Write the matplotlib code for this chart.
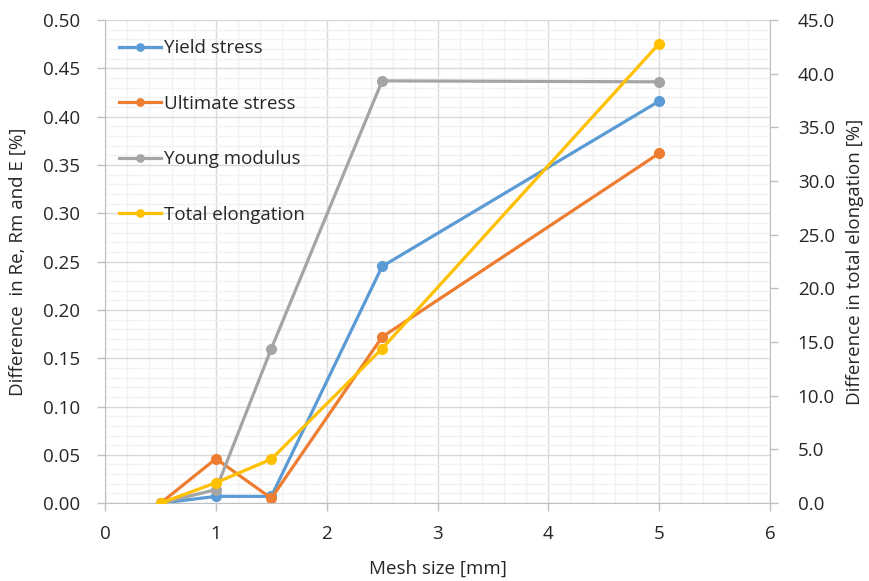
import matplotlib
matplotlib.use("Agg")
import matplotlib.pyplot as plt
from matplotlib.ticker import MultipleLocator, FormatStrFormatter

plt.rcParams['font.family'] = ['Open Sans', 'DejaVu Sans']

# Data
mesh_size = [0.5, 1, 1.5, 2.5, 5]
yield_stress = [0.0, 0.007, 0.007, 0.245, 0.416]
ultimate_stress = [0.0, 0.046, 0.005, 0.172, 0.362]
young_modulus = [0.0, 0.014, 0.160, 0.437, 0.436]
total_elongation = [0.0, 1.9, 4.1, 14.4, 42.8]

blue = "#5B9BD5"
orange = "#ED7D31"
gray = "#A5A5A5"
gold = "#FFC000"
text_col = "#262626"
axis_col = "#BFBFBF"
fs = 13.5

fig = plt.figure(figsize=(8.69, 5.81), dpi=100)
ax = fig.add_axes([0.121, 0.134, 0.765, 0.8316])
ax2 = ax.twinx()

style = dict(linewidth=2.3, marker="o", markersize=7)
ax.plot(mesh_size, yield_stress, color=blue, label="Yield stress", **style)
ax.plot(mesh_size, ultimate_stress, color=orange, label="Ultimate stress", **style)
ax.plot(mesh_size, young_modulus, color=gray, label="Young modulus", **style)
ax2.plot(mesh_size, total_elongation, color=gold, label="Total elongation", **style)

ax.set_xlim(0, 6)
ax.set_ylim(0, 0.5)
ax2.set_ylim(0, 45)

ax.xaxis.set_major_locator(MultipleLocator(1))
ax.xaxis.set_minor_locator(MultipleLocator(0.2))
ax.yaxis.set_major_locator(MultipleLocator(0.05))
ax.yaxis.set_minor_locator(MultipleLocator(0.01))
ax.yaxis.set_major_formatter(FormatStrFormatter("%.2f"))
ax2.yaxis.set_major_locator(MultipleLocator(5))
ax2.yaxis.set_major_formatter(FormatStrFormatter("%.1f"))

ax.grid(which="major", color="#D9D9D9", linewidth=1.0)
ax.grid(which="minor", color="#F2F2F2", linewidth=1.0)
ax.set_axisbelow(True)

for a in (ax, ax2):
    a.spines["top"].set_visible(False)
    for s in ("left", "right", "bottom"):
        a.spines[s].set_color(axis_col)
    a.tick_params(which="major", colors=axis_col, labelcolor=text_col,
                  labelsize=fs, length=6, width=1)
    a.tick_params(which="minor", length=0)
ax.tick_params(axis="x", pad=10)
ax.tick_params(axis="y", pad=12)
ax2.tick_params(axis="y", pad=14)
ax.spines["right"].set_visible(False)
ax2.spines["left"].set_visible(False)
ax2.spines["bottom"].set_visible(False)

ax.set_xlabel("Mesh size [mm]", fontsize=fs, color=text_col, labelpad=12)
ax.set_ylabel("Difference  in Re, Rm and E [%]", fontsize=fs, color=text_col, labelpad=12)
ax2.set_ylabel("Difference in total elongation [%]", fontsize=fs, color=text_col, labelpad=8)

h1, l1 = ax.get_legend_handles_labels()
h2, l2 = ax2.get_legend_handles_labels()
leg = ax.legend(h1 + h2, l1 + l2, loc="upper left", frameon=False, fontsize=fs,
                labelspacing=2.0, handlelength=2.2, handletextpad=0.2,
                markerscale=0.75, bbox_to_anchor=(-0.004, 0.995))
for t in leg.get_texts():
    t.set_color(text_col)

fig.savefig("out.png", dpi=100)
